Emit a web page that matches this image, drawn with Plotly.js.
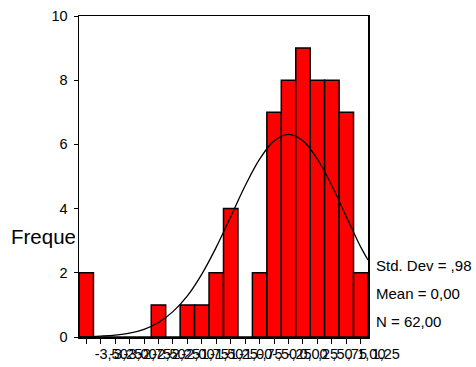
<!DOCTYPE html>
<html>
<head>
<meta charset="utf-8">
<script src="https://cdn.plot.ly/plotly-3.0.1.min.js"></script>
<style>html,body{margin:0;padding:0;background:#fff;}#chart{width:476px;height:367px;}</style>
</head>
<body>
<div id="chart"></div>
<script>
// Bin midpoints (bin width 0.25)
var binCenters = [-3.5,-3.25,-3.0,-2.75,-2.5,-2.25,-2.0,-1.75,-1.5,-1.25,-1.0,-0.75,-0.5,-0.25,0.0,0.25,0.5,0.75,1.0,1.25];
var binLabels = ["-3,50","-3,25","-3,00","-2,75","-2,50","-2,25","-2,00","-1,75","-1,50","-1,25","-1,00","-,75","-,50","-,25","0,00",",25",",50",",75","1,00","1,25"];
var frequencies = [2,0,0,0,0,1,0,1,1,2,4,0,2,7,8,9,8,8,7,2];
// Normal curve
var curveX = [-3.625,-3.5,-3.25,-3.0,-2.75,-2.5,-2.25,-2.0,-1.75,-1.5,-1.25,-1.0,-0.75,-0.5,-0.25,0.0,0.25,0.5,0.75,1.0,1.25,1.375];
var curveY = [0.01,0.01,0.03,0.06,0.12,0.24,0.45,0.79,1.28,1.96,2.80,3.75,4.71,5.54,6.11,6.31,6.11,5.54,4.71,3.75,2.80,2.40];
var yTicks = [0,2,4,6,8,10];
var statsLines = ["Std. Dev = ,98","Mean = 0,00","N = 62,00"];
var yTitle = "Frequency";

var W = 476, H = 367;
var plotL = 79, plotR = 368, plotT = 16, plotB = 337;
var FONT = "Liberation Sans, Arial, sans-serif";

var traces = [
  {
    type: "bar", x: binCenters, y: frequencies, width: 0.25,
    marker: {color: "#FF0000", line: {color: "#000000", width: 1.5}},
    xaxis: "x", yaxis: "y", hoverinfo: "skip", showlegend: false
  },
  {
    type: "scatter", mode: "lines", x: curveX, y: curveY,
    line: {color: "#000000", width: 1.3, shape: "spline"},
    xaxis: "x", yaxis: "y", hoverinfo: "skip", showlegend: false
  },
  {
    type: "scatter", mode: "text", x: [11], y: [239], text: [yTitle],
    textposition: "middle right", cliponaxis: true,
    textfont: {family: FONT, size: 20.5, color: "#000"},
    xaxis: "x2", yaxis: "y2", hoverinfo: "skip", showlegend: false
  }
];

var annotations = statsLines.map(function(t, i) {
  var py = [265.5, 293.5, 321][i];
  return {
    text: t, xref: "paper", yref: "paper",
    x: 374 / W, y: (plotB - py) / (plotB - plotT),
    xanchor: "left", yanchor: "middle", showarrow: false,
    font: {family: FONT, size: 15, color: "#000"}
  };
});

var clipR = 75;
var layout = {
  width: W, height: H,
  margin: {l: 0, r: 0, t: plotT, b: H - plotB, pad: 0},
  paper_bgcolor: "#ffffff", plot_bgcolor: "rgba(0,0,0,0)",
  bargap: 0, showlegend: false,
  font: {family: FONT, size: 14.5, color: "#000"},
  xaxis: {
    domain: [plotL / W, plotR / W], range: [-3.625, 1.375],
    tickmode: "array", tickvals: binCenters, ticktext: binLabels,
    ticks: "outside", ticklen: 5, tickwidth: 1, tickcolor: "#000",
    tickangle: 0, ticklabelshift: 25, ticklabelstandoff: -2,
    tickfont: {family: FONT, size: 14.5, color: "#000"},
    showline: true, linecolor: "#000", linewidth: 1.5, mirror: true,
    showgrid: false, zeroline: false, fixedrange: true
  },
  yaxis: {
    domain: [0, 1], range: [0, 10],
    tickmode: "array", tickvals: yTicks,
    ticks: "outside", ticklen: 4, tickwidth: 1, tickcolor: "#000",
    ticklabelstandoff: 3,
    tickfont: {family: FONT, size: 14.5, color: "#000"},
    showline: true, linecolor: "#000", linewidth: 1.5, mirror: true,
    showgrid: false, zeroline: false, fixedrange: true
  },
  xaxis2: {domain: [0, clipR / W], range: [0, clipR], anchor: "y2", visible: false, fixedrange: true},
  yaxis2: {domain: [0, 1], range: [plotB, plotT], anchor: "x2", visible: false, fixedrange: true},
  annotations: annotations
};

Plotly.newPlot("chart", traces, layout, {displayModeBar: false, staticPlot: true});
</script>
</body>
</html>
